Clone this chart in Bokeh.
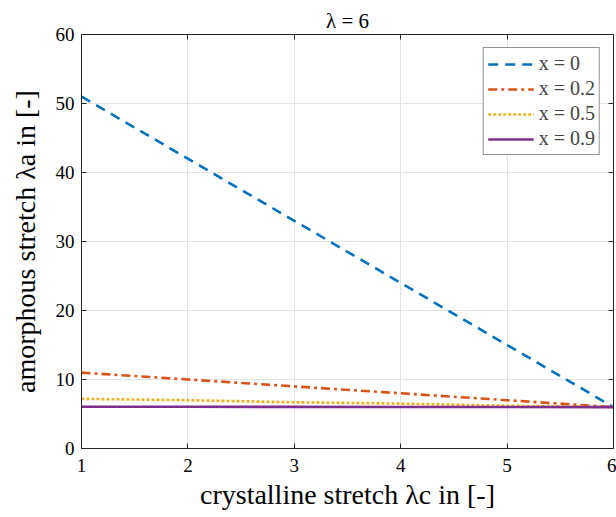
from bokeh.plotting import figure
from bokeh.models import LinearAxis, FixedTicker, Range1d, Title
from bokeh.embed import file_html
from bokeh.resources import INLINE

# ---- data ----
lambda_c = [1, 2, 3, 4, 5, 6]
lam_a_x0 = [51, 42, 33, 24, 15, 6]
lam_a_x02 = [11, 10, 9, 8, 7, 6]
lam_a_x05 = [7.2, 7.0, 6.7, 6.5, 6.2, 6.0]
lam_a_x09 = [6.05, 6.04, 6.03, 6.02, 6.01, 6.0]
series_labels = ["x = 0", "x = 0.2", "x = 0.5", "x = 0.9"]
x_ticks = [1, 2, 3, 4, 5, 6]
y_ticks = [0, 10, 20, 30, 40, 50, 60]
title_text = "λ = 6"
x_label = "crystalline stretch λc in [-]"
y_label = "amorphous stretch λa in [-]"

FONT = "Liberation Serif"
AX = "#262626"

p = figure(width=616, height=517, x_range=Range1d(1, 6), y_range=Range1d(0, 60),
           output_backend="svg", toolbar_location=None,
           title=Title(text=title_text, align="center", text_font=FONT,
                       text_font_size="21px", text_font_style="normal",
                       text_color="black", standoff=4),
           min_border_left=81, min_border_right=3, min_border_top=34, min_border_bottom=69)
p.outline_line_color = AX
p.background_fill_color = "white"
p.border_fill_color = "white"

for ax in (p.xaxis[0], p.yaxis[0]):
    ax.axis_line_color = AX
    ax.major_tick_line_color = AX
    ax.major_tick_in = 5
    ax.major_tick_out = 0
    ax.minor_tick_line_color = None
    ax.major_label_text_font = FONT
    ax.major_label_text_font_size = "19px"
    ax.major_label_text_color = "black"
    ax.axis_label_text_font = FONT
    ax.axis_label_text_font_size = "28px"
    ax.axis_label_text_font_style = "normal"
    ax.axis_label_text_color = "black"
p.xaxis[0].ticker = FixedTicker(ticks=x_ticks)
p.yaxis[0].ticker = FixedTicker(ticks=y_ticks)
p.xaxis[0].major_label_standoff = 10
p.yaxis[0].major_label_standoff = 7
p.xaxis[0].axis_label = x_label
p.yaxis[0].axis_label = y_label
p.xaxis[0].axis_label_standoff = 4
p.yaxis[0].axis_label_standoff = 12

top = LinearAxis(ticker=FixedTicker(ticks=x_ticks), major_label_overrides={t: "" for t in x_ticks})
right = LinearAxis(ticker=FixedTicker(ticks=y_ticks), major_label_overrides={t: "" for t in y_ticks})
for ax in (top, right):
    ax.axis_line_color = AX
    ax.major_tick_line_color = AX
    ax.major_tick_in = 5
    ax.major_tick_out = 0
    ax.minor_tick_line_color = None
    ax.major_label_standoff = 0
    ax.major_label_text_font_size = "1px"
p.add_layout(top, "above")
p.add_layout(right, "right")

p.xgrid.ticker = FixedTicker(ticks=x_ticks)
p.ygrid.ticker = FixedTicker(ticks=y_ticks)
p.xgrid.grid_line_color = "#e3e3e3"
p.ygrid.grid_line_color = "#e3e3e3"

LW = 2.6
p.line(lambda_c, lam_a_x0, line_color="#0072BD", line_width=LW, line_dash="10 7",
       legend_label=series_labels[0])
p.line(lambda_c, lam_a_x02, line_color="#D95319", line_width=LW, line_dash="9 4 3 4",
       legend_label=series_labels[1])
p.line(lambda_c, lam_a_x05, line_color="#EDB120", line_width=LW, line_dash="3 2",
       legend_label=series_labels[2])
p.line(lambda_c, lam_a_x09, line_color="#7E2F8E", line_width=LW,
       legend_label=series_labels[3])

lg = p.legend[0]
lg.location = "top_right"
lg.margin = 13
lg.border_line_color = AX
lg.border_line_width = 1
lg.label_text_font = FONT
lg.label_text_font_size = "20px"
lg.glyph_width = 46
lg.glyph_height = 18
lg.label_height = 18
lg.spacing = 2
lg.padding = 4
lg.label_standoff = 5
lg.background_fill_alpha = 1.0

open("out.html", "w").write(file_html(p, INLINE))
